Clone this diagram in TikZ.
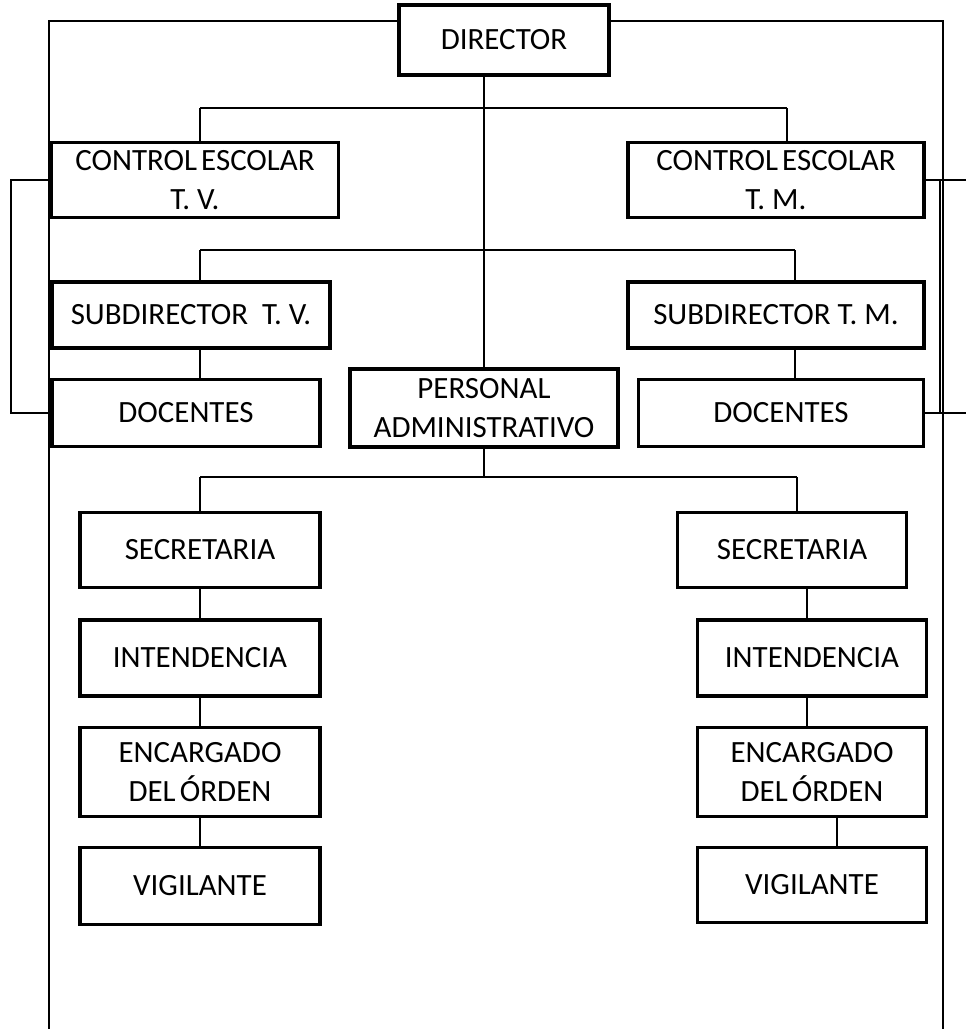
\documentclass[tikz,border=0pt]{standalone}
\usepackage{fontspec}
\setmainfont{Carlito}
\usetikzlibrary{positioning}

\begin{document}
\begin{tikzpicture}[x=0.025cm,y=-0.025cm,
  box/.style 2 args={draw,line width=2.4pt,align=center,inner sep=0pt,
    minimum width=#1*0.025cm,minimum height=#2*0.025cm,
    font=\fontsize{22}{28}\selectfont},
  con/.style={line width=1.6pt}]
\useasboundingbox (0,0) rectangle (966,1029);

% frame
\coordinate (fl) at (49,1029);
\coordinate (fr) at (943,1029);
\coordinate (rgt) at (966,0);
\coordinate (lbr) at (11,0);

\node[box={210}{70}] (dir) at (504,40) {DIRECTOR};
\draw[con] (dir.west |- 0,21) -- (49,21) -- (fl);
\draw[con] (dir.east |- 0,21) -- (943,21) -- (fr);

\node[box={287}{75}] (cetv) at (195,180) {CONTROL\kern3pt ESCOLAR\\T. V.};
\node[box={296}{75}] (cetm) at (776,180) {CONTROL\kern3pt ESCOLAR\\T. M.};
\node[box={278}{66}] (subtv) at (191,315) {SUBDIRECTOR~ T. V.};
\node[box={296}{66}] (subtm) at (776,315) {SUBDIRECTOR T. M.};
\node[box={268}{67}] (doctv) at (186,413) {DOCENTES};
\node[box={285}{67}] (doctm) at (781,413) {DOCENTES};
\node[box={268}{78}] (pa) at (484,408) {PERSONAL\\ADMINISTRATIVO};

\node[box={240}{75}] (secl) at (200,550) {SECRETARIA};
\node[box={240}{76}] (intl) at (200,658) {INTENDENCIA};
\node[box={240}{89}] (encl) at (200,772) {ENCARGADO\\DEL\kern3pt ÓRDEN};
\node[box={240}{77}] (vigl) at (200,886) {VIGILANTE};

\node[box={229}{75}] (secr) at (792,550) {SECRETARIA};
\node[box={229}{76}] (intr) at (812,658) {INTENDENCIA};
\node[box={229}{89}] (encr) at (812,772) {ENCARGADO\\DEL\kern3pt ÓRDEN};
\node[box={229}{75}] (vigr) at (812,885) {VIGILANTE};

% main stem
\draw[con] (dir.south -| pa.north) -- (pa.north);
\draw[con] (200,108) -- (787,108);
\draw[con] (cetv.north -| 200,0) -- (200,108);
\draw[con] (cetm.north -| 787,0) -- (787,108);
\draw[con] (200,250) -- (795,250);
\draw[con] (subtv.north -| 200,0) -- (200,250);
\draw[con] (subtm.north -| 795,0) -- (795,250);
\draw[con] (subtv.south -| 200,0) -- (doctv.north -| 200,0);
\draw[con] (subtm.south -| 795,0) -- (doctm.north -| 795,0);

% brackets
\draw[con] (cetv.west) -- (cetv.west -| lbr) -- (doctv.west -| lbr) -- (doctv.west);
\draw[con] (cetm.east) -- (cetm.east -| rgt);
\draw[con] (doctm.east) -- (doctm.east -| rgt);
\draw[con] (cetm.east -| 940,0) -- (doctm.east -| 940,0);

% administrativo
\draw[con] (pa.south) -- (pa.south |- 0,477);
\draw[con] (200,477) -- (797,477);
\draw[con] (secl.north) -- (200,477);
\draw[con] (secr.north -| 797,0) -- (797,477);
\draw[con] (secl) -- (intl) -- (encl) -- (vigl);
\draw[con] (secr.south -| 807,0) -- (intr.north -| 807,0);
\draw[con] (intr.south -| 807,0) -- (encr.north -| 807,0);
\draw[con] (encr.south -| 837,0) -- (vigr.north -| 837,0);
\end{tikzpicture}
\end{document}
